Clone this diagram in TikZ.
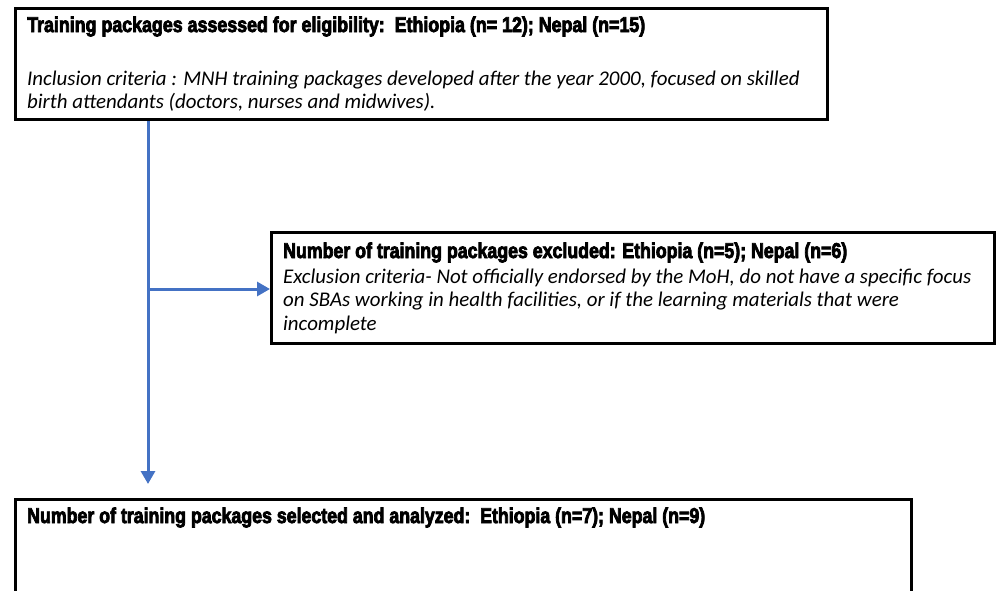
\documentclass[tikz,border=0pt]{standalone}
\usepackage{fontspec}
\setmainfont{Carlito}
\newfontfamily\headfont{Liberation Sans}[BoldFeatures={FakeBold=4}]
\usetikzlibrary{arrows.meta,calc}
\definecolor{flowblue}{HTML}{4472C4}
\newcommand{\headline}[2]{\resizebox{#1}{15.5pt}{\headfont\bfseries #2}}
\tikzset{
  box/.style={draw=black, line width=3pt, rectangle, inner sep=0pt, anchor=north west},
  txt/.style={anchor=base west, inner sep=0pt, font=\fontsize{20.9pt}{25pt}\selectfont\itshape},
  ttl/.style={anchor=base west, inner sep=0pt},
  flow/.style={draw=flowblue, line width=3pt, -{Triangle[length=13pt,width=14pt]}},
  flowline/.style={draw=flowblue, line width=3pt}
}
\begin{document}
\begin{tikzpicture}[x=1pt,y=-1pt]
\useasboundingbox (0,0) rectangle (1000,590);
\clip (0,0) rectangle (1000,590);
% boxes
\node[box, minimum width=812pt, minimum height=111pt] (top) at (14,7) {};
\node[box, minimum width=723pt, minimum height=111pt] (mid) at (270,231) {};
\node[box, minimum width=896pt, minimum height=110pt] (bot) at (14,498) {};
% texts
\node[ttl] (toptitle) at (27,32) {\headline{618pt}{Training packages assessed for eligibility:\ \ Ethiopia (n= 12); Nepal (n=15)}};
\node[txt] (topl1) at (27,85) {Inclusion criteria : MNH training packages developed after the year 2000, focused on skilled};
\node[txt] (topl2) at (27,108) {birth attendants (doctors, nurses and midwives).};
\node[ttl] (midtitle) at (283,258) {\headline{564pt}{Number of training packages excluded: Ethiopia (n=5); Nepal (n=6)}};
\node[txt] (midl1) at (283,283) {Exclusion criteria- Not officially endorsed by the MoH, do not have a specific focus};
\node[txt] (midl2) at (283,306.5) {on SBAs working in health facilities, or if the learning materials that were};
\node[txt] (midl3) at (283,330) {incomplete};
\node[ttl] (bottitle) at (27,523) {\headline{678pt}{Number of training packages selected and analyzed:\ \ Ethiopia (n=7); Nepal (n=9)}};
% connectors
\coordinate (branch) at (148,289);
\coordinate (vend) at (148,484);
\draw[flowline] (top.south -| branch) -- (branch);
\draw[flow] (branch) -- (vend);
\draw[flow] (branch) -- (mid.west |- branch);
\end{tikzpicture}
\end{document}
